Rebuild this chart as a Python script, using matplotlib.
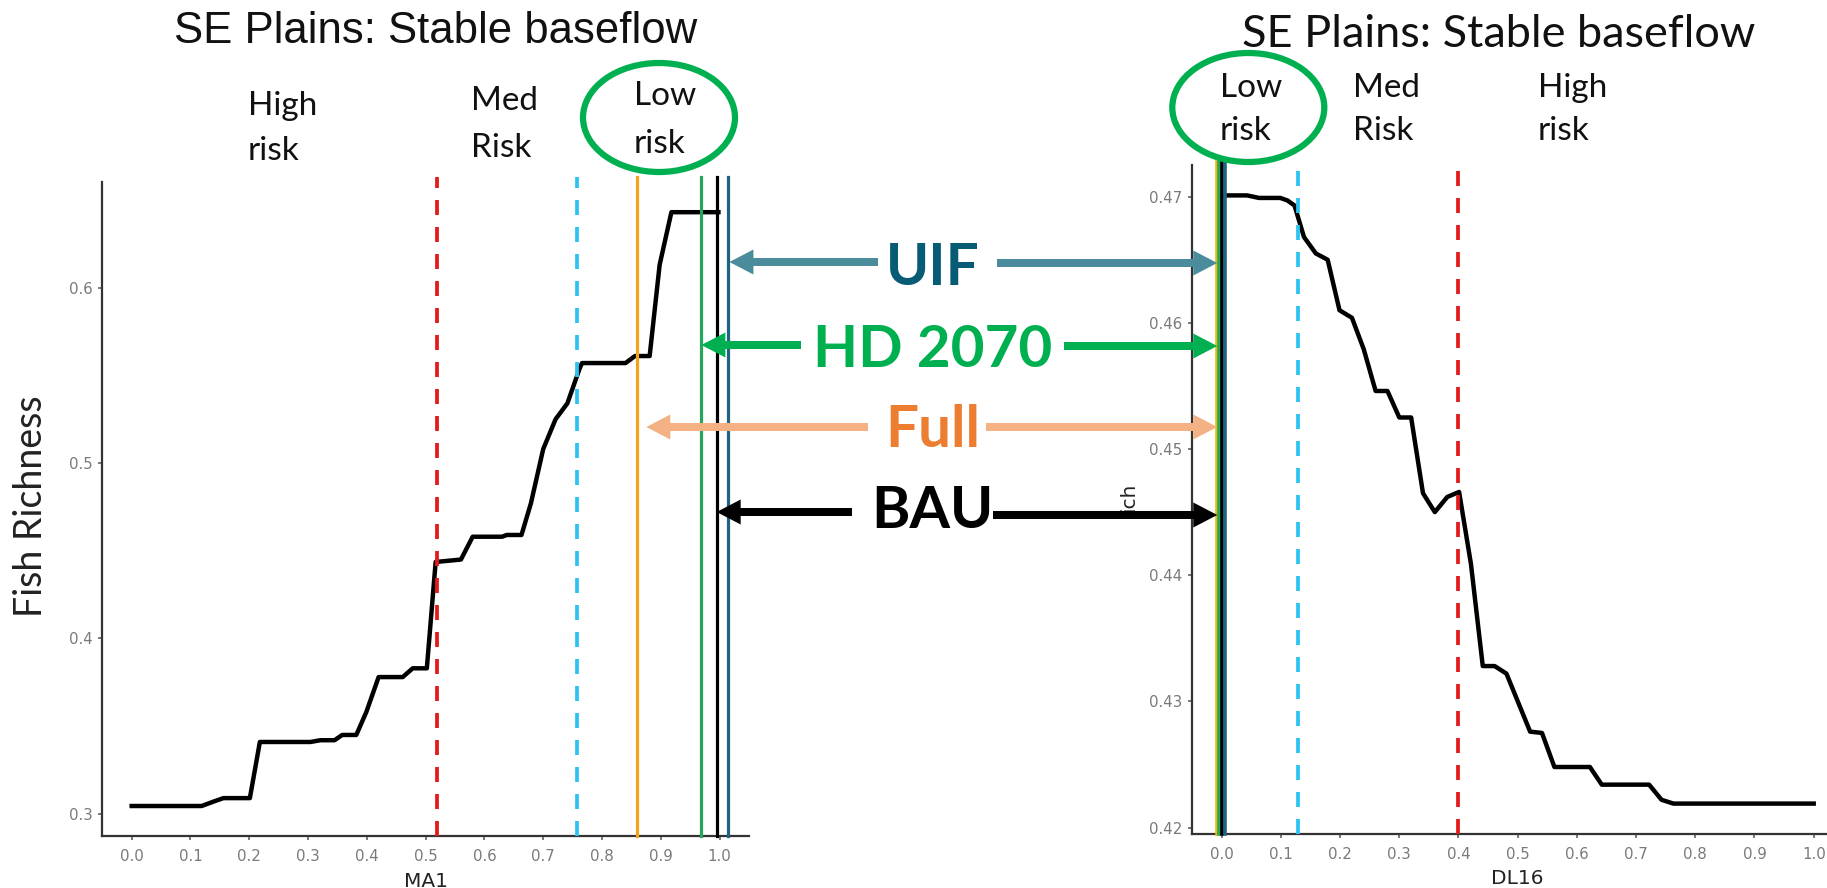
import matplotlib
matplotlib.use("Agg")
import matplotlib.pyplot as plt
from matplotlib.patches import Ellipse, FancyArrow
from matplotlib.ticker import FormatStrFormatter

# ---------------------- DATA ----------------------
# response curve, fish richness vs MA1 (left panel)
ma1_x = [0.0, 0.119, 0.139, 0.156, 0.201, 0.218, 0.304, 0.321, 0.345, 0.358, 0.382,
         0.399, 0.420, 0.461, 0.478, 0.502, 0.517, 0.560, 0.580, 0.630, 0.638, 0.663,
         0.679, 0.700, 0.721, 0.741, 0.762, 0.766, 0.840, 0.856, 0.881, 0.898, 0.918, 0.998]
ma1_y = [0.3045, 0.3045, 0.307, 0.309, 0.309, 0.341, 0.341, 0.342, 0.342, 0.345, 0.345,
         0.358, 0.378, 0.378, 0.383, 0.383, 0.4436, 0.445, 0.458, 0.458, 0.459, 0.459,
         0.477, 0.508, 0.525, 0.534, 0.554, 0.557, 0.557, 0.561, 0.561, 0.613, 0.643, 0.643]

# response curve, fish richness vs DL16 (right panel)
dl16_x = [0.0, 0.043, 0.063, 0.099, 0.111, 0.123, 0.139, 0.159, 0.179, 0.199, 0.220,
          0.240, 0.260, 0.280, 0.300, 0.320, 0.340, 0.360, 0.381, 0.401, 0.421, 0.441,
          0.461, 0.481, 0.501, 0.521, 0.541, 0.562, 0.622, 0.642, 0.722, 0.743, 0.763, 1.0]
dl16_y = [0.4701, 0.4701, 0.4699, 0.4699, 0.4697, 0.4693, 0.4668, 0.4655, 0.4650, 0.4610,
          0.4604, 0.4579, 0.4546, 0.4546, 0.4525, 0.4525, 0.4465, 0.4450, 0.4462, 0.4466,
          0.4409, 0.4328, 0.4328, 0.4322, 0.4299, 0.4276, 0.4275, 0.4248, 0.4248, 0.4234,
          0.4234, 0.4222, 0.4219, 0.4219]

# risk thresholds: [high/med (red), med/low (cyan)]
ma1_thresholds = [0.520, 0.757]
dl16_thresholds = [0.400, 0.1295]

# flow scenarios
scenarios = ['UIF', 'HD 2070', 'Full', 'BAU']
ma1_scenario_x = [1.015, 0.969, 0.860, 0.995]
dl16_scenario_x = [0.006, -0.0045, -0.0083, 0.0005]

x_ticks = [0.0, 0.1, 0.2, 0.3, 0.4, 0.5, 0.6, 0.7, 0.8, 0.9, 1.0]
ma1_yticks = [0.3, 0.4, 0.5, 0.6]
dl16_yticks = [0.42, 0.43, 0.44, 0.45, 0.46, 0.47]

# ---------------------- STYLE ----------------------
W, H = 1827, 888
RED = '#E31A1C'
CYAN = '#2BC4F2'
line_colors_left = ['#1E6480', '#26A65B', '#F4A11D', '#000000']
line_colors_right = ['#1E6480', '#26A65B', '#F2B705', '#000000']
text_colors = ['#075B74', '#00B050', '#ED7D31', '#000000']
arrow_colors = ['#4A8B9C', '#00B050', '#F4B183', '#000000']
CALIBRI = 'Lato'

fig = plt.figure(figsize=(W / 100, H / 100), dpi=100)
fig.patch.set_facecolor('white')

ax1 = fig.add_axes([102.3 / W, 52.3 / H, 646.7 / W, 653.2 / H])
ax2 = fig.add_axes([1192.1 / W, 54.0 / H, 651.2 / W, 669.0 / H])


def expand(vals, frac=0.05):
    lo, hi = min(vals), max(vals)
    pad = (hi - lo) * frac
    return lo - pad, hi + pad


def style_axes(ax, yticks, yfmt):
    for s in ['top', 'right']:
        ax.spines[s].set_visible(False)
    for s in ['left', 'bottom']:
        ax.spines[s].set_color('#333333')
        ax.spines[s].set_linewidth(1.6)
    ax.set_xlim(-0.05, 1.05)
    ax.set_xticks(x_ticks)
    ax.set_yticks(yticks)
    ax.xaxis.set_major_formatter(FormatStrFormatter('%.1f'))
    ax.yaxis.set_major_formatter(FormatStrFormatter(yfmt))
    ax.tick_params(axis='both', length=3, width=1.1, color='#555555',
                   labelcolor='#7A7A7A', labelsize=10.8)
    ax.tick_params(axis='x', pad=6.5)
    ax.tick_params(axis='y', pad=4.2)


# ---------------------- LEFT PANEL (MA1) ----------------------
style_axes(ax1, ma1_yticks, '%.1f')
ax1.set_ylim(*expand(ma1_y))
ax1.plot(ma1_x, ma1_y, color='black', lw=3.2, solid_joinstyle='round', zorder=3)
ax1.axvline(ma1_thresholds[0], color=RED, lw=2.7, ls=(0, (4.0, 3.2)), ymax=1.008, clip_on=False, zorder=4)
ax1.axvline(ma1_thresholds[1], color=CYAN, lw=2.7, ls=(0, (4.0, 3.2)), ymax=1.008, clip_on=False, zorder=4)
for i in [2, 1, 3, 0]:
    ax1.axvline(ma1_scenario_x[i], color=line_colors_left[i], lw=2.3, ymax=1.008, clip_on=False, zorder=4)

ax1.set_xlabel('MA1', fontsize=14.5, color='#222222', va='baseline')
ax1.xaxis.set_label_coords(0.5, -0.0793)
ax1.set_ylabel('Fish Richness', fontsize=27, family=CALIBRI, color='#222222', va='center')
ax1.yaxis.set_label_coords(-0.1095, 0.5047)

# ---------------------- RIGHT PANEL (DL16) ----------------------
style_axes(ax2, dl16_yticks, '%.2f')
ax2.set_ylim(*expand(dl16_y))
ax2.plot(dl16_x, dl16_y, color='black', lw=3.2, solid_joinstyle='round', zorder=3)
ax2.axvline(dl16_thresholds[0], color=RED, lw=2.7, ls=(0, (4.0, 3.2)), ymax=1.005, clip_on=False, zorder=4)
ax2.axvline(dl16_thresholds[1], color=CYAN, lw=2.7, ls=(0, (4.0, 3.2)), ymax=1.005, clip_on=False, zorder=4)
for i in [2, 1, 3, 0]:
    ax2.axvline(dl16_scenario_x[i], color=line_colors_right[i], lw=2.6, ymax=1.005, clip_on=False, zorder=4)

ax2.set_xlabel('DL16', fontsize=14.5, color='#222222', va='baseline')
ax2.xaxis.set_label_coords(0.5, -0.0747)
ax2.set_ylabel('ich', fontsize=14.5, color='#222222', va='center')
ax2.yaxis.set_label_coords(-0.0969, 0.5037)

# ---------------------- OVERLAY (slide annotations, pixel coords) ----------------------
ov = fig.add_axes([0, 0, 1, 1], zorder=10)
ov.set_xlim(0, W)
ov.set_ylim(H, 0)
ov.axis('off')
ov.patch.set_alpha(0)

ov.text(435.5, 43, 'SE Plains: Stable baseflow', ha='center', va='baseline',
        fontsize=31.5, family='Liberation Sans', color='#111111')
ov.text(1498.5, 47, 'SE Plains: Stable baseflow', ha='center', va='baseline',
        fontsize=32.5, family=CALIBRI, color='#111111')

risk_labels = [('High', 248, 115), ('risk', 248, 160),
               ('Med', 471, 110), ('Risk', 471, 157),
               ('Low', 634, 105), ('risk', 634, 153),
               ('Low', 1220, 97), ('risk', 1220, 140),
               ('Med', 1353, 97), ('Risk', 1353, 140),
               ('High', 1538, 97), ('risk', 1538, 140)]
for txt, x, y in risk_labels:
    ov.text(x, y, txt, ha='left', va='baseline', fontsize=24, family=CALIBRI, color='#111111')

for cx, cy in [(659, 117.5), (1248.3, 107.5)]:
    ov.add_patch(Ellipse((cx, cy), 152, 109, fill=False, ec='#00B050', lw=4.5))

# scenario arrows from the labels to the lines in each panel
label_x = 932.5
label_baseline = [285, 367, 447, 528]
y_left = [262, 345, 427, 512]
y_right = [263, 346, 427, 515]
shaft_left_end = [878, 801, 868, 852]
shaft_right_start = [997, 1064, 986, 993]
tip_gap = [1, 0, 9, 0]

right_tip = ax2.transData.transform((min(dl16_scenario_x), 0.45))[0] + 0.5
for i, name in enumerate(scenarios):
    left_tip = ax1.transData.transform((ma1_scenario_x[i], 0.5))[0] + tip_gap[i]
    ov.add_patch(FancyArrow(shaft_left_end[i], y_left[i], left_tip - shaft_left_end[i], 0,
                            width=8, head_width=25, head_length=24,
                            length_includes_head=True, color=arrow_colors[i], lw=0))
    ov.add_patch(FancyArrow(shaft_right_start[i], y_right[i], right_tip - shaft_right_start[i],
                            0, width=8, head_width=25, head_length=24,
                            length_includes_head=True, color=arrow_colors[i], lw=0))
    ov.text(label_x, label_baseline[i], name, ha='center', va='baseline', fontsize=42,
            fontweight='bold', family=CALIBRI, color=text_colors[i])

fig.savefig('out.png', dpi=100, facecolor='white')
